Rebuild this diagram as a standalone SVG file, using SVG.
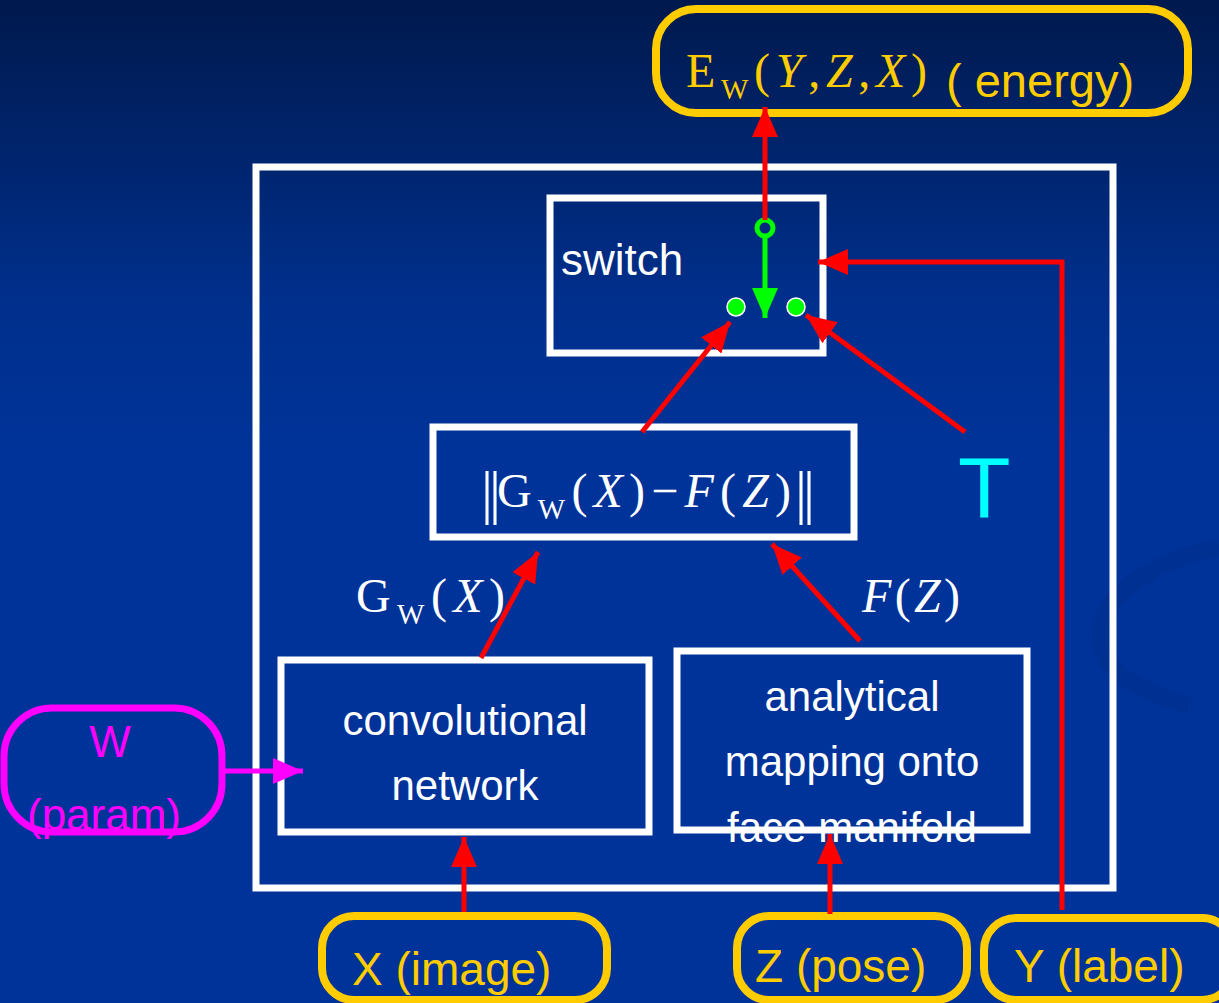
<svg xmlns="http://www.w3.org/2000/svg" width="1219" height="1003" viewBox="0 0 1219 1003">
<defs>
<linearGradient id="bg" x1="0" y1="0" x2="0" y2="1">
<stop offset="0" stop-color="#00194d"/>
<stop offset="0.3" stop-color="#002f8c"/>
<stop offset="0.45" stop-color="#003399"/>
<stop offset="1" stop-color="#003399"/>
</linearGradient>
<marker id="ar" markerUnits="userSpaceOnUse" markerWidth="30" markerHeight="26" refX="30" refY="13" orient="auto"><path d="M0,0 L30,13 L0,26 z" fill="#ff0000"/></marker>
<marker id="ag" markerUnits="userSpaceOnUse" markerWidth="30" markerHeight="26" refX="30" refY="13" orient="auto"><path d="M0,0 L30,13 L0,26 z" fill="#00ff00"/></marker>
<marker id="am" markerUnits="userSpaceOnUse" markerWidth="30" markerHeight="26" refX="30" refY="13" orient="auto"><path d="M0,0 L30,13 L0,26 z" fill="#ff00ff"/></marker>
<style>
.wbox{fill:none;stroke:#ffffff;stroke-width:7}
.gbox{fill:none;stroke:#ffcc00;stroke-width:8}
.sans{font-family:"Liberation Sans",Arial,sans-serif}
.serif{font-family:"Liberation Serif","Times New Roman",serif}
.wt{fill:#ffffff}
.gt{fill:#ffcc00}
.red{stroke:#ff0000;stroke-width:5;fill:none}
</style>
</defs>
<rect x="0" y="0" width="1219" height="1003" fill="url(#bg)"/>
<path d="M1219,548 C1150,560 1095,600 1100,640 C1104,672 1140,692 1190,705" fill="none" stroke="#002d8a" stroke-width="18" opacity="0.45"/>

<g id="outer"><rect class="wbox" x="256" y="167" width="857" height="721"/></g>

<g id="energy">
<rect class="gbox" x="656" y="9" width="532" height="104" rx="40"/>
<text class="serif gt" x="686" y="87" font-size="48" textLength="241" lengthAdjust="spacing">E<tspan font-size="29" dy="12">W</tspan><tspan dy="-12">(</tspan><tspan font-style="italic">Y</tspan>,<tspan font-style="italic">Z</tspan>,<tspan font-style="italic">X</tspan>)</text>
<text class="sans gt" x="946" y="97" font-size="47">( energy)</text>
</g>

<g id="switch">
<rect class="wbox" x="550" y="198" width="273" height="155"/>
<text class="sans wt" x="561" y="275" font-size="44">switch</text>
<circle cx="765" cy="228" r="8" fill="none" stroke="#00ff00" stroke-width="5"/>
<circle cx="736" cy="307" r="9" fill="#00ff00" stroke="#ffffff" stroke-width="1.5"/>
<circle cx="796" cy="307" r="9" fill="#00ff00" stroke="#ffffff" stroke-width="1.5"/>
</g>

<g id="diff">
<rect class="wbox" x="433" y="427" width="421" height="110"/>
<text class="serif wt" x="481" y="512" font-size="60" letter-spacing="-4">||</text>
<text class="serif wt" x="497" y="507" font-size="48" textLength="294" lengthAdjust="spacing">G<tspan font-size="29" dy="12">W</tspan><tspan dy="-12">(</tspan><tspan font-style="italic">X</tspan>)−<tspan font-style="italic">F</tspan>(<tspan font-style="italic">Z</tspan>)</text>
<text class="serif wt" x="795" y="512" font-size="60" letter-spacing="-4">||</text>
</g>

<g id="labels">
<text class="serif wt" x="356" y="612" font-size="48" textLength="149" lengthAdjust="spacing">G<tspan font-size="29" dy="12">W</tspan><tspan dy="-12">(</tspan><tspan font-style="italic">X</tspan>)</text>
<text class="serif wt" x="862" y="612" font-size="48" textLength="98" lengthAdjust="spacing"><tspan font-style="italic">F</tspan>(<tspan font-style="italic">Z</tspan>)</text>
<text class="sans" x="958" y="517" font-size="86" fill="#00ffff">T</text>
</g>

<g id="conv">
<rect class="wbox" x="281" y="660" width="368" height="172"/>
<text class="sans wt" x="465" y="735" font-size="42" text-anchor="middle">convolutional</text>
<text class="sans wt" x="465" y="800" font-size="42" text-anchor="middle">network</text>
</g>

<g id="analytical">
<rect class="wbox" x="677" y="651" width="350" height="179"/>
<text class="sans wt" x="852" y="711" font-size="42" text-anchor="middle">analytical</text>
<text class="sans wt" x="852" y="776" font-size="42" text-anchor="middle">mapping onto</text>
<text class="sans wt" x="852" y="842" font-size="42" text-anchor="middle">face manifold</text>
</g>

<g id="param">
<rect x="4" y="708" width="218" height="124" rx="48" fill="none" stroke="#ff00ff" stroke-width="7"/>
<text class="sans" x="110" y="757" font-size="44" fill="#ff00ff" text-anchor="middle">W</text>
<text class="sans" x="104" y="830" font-size="44" fill="#ff00ff" text-anchor="middle">(param)</text>
</g>

<g id="ximage">
<rect class="gbox" x="322" y="916" width="285" height="84" rx="32"/>
<text class="sans gt" x="352" y="985" font-size="46">X (image)</text>
</g>
<g id="zpose">
<rect class="gbox" x="737" y="916" width="230" height="84" rx="32"/>
<text class="sans gt" x="755" y="982" font-size="46">Z (pose)</text>
</g>
<g id="ylabel">
<rect class="gbox" x="984" y="918" width="250" height="82" rx="32"/>
<text class="sans gt" x="1014" y="982" font-size="46">Y (label)</text>
</g>

<g id="connectors">
<line class="red" x1="765" y1="220" x2="765" y2="107" marker-end="url(#ar)"/>
<line x1="765" y1="236" x2="765" y2="318" stroke="#00ff00" stroke-width="5" marker-end="url(#ag)"/>
<polyline class="red" points="1062,910 1062,262 818,262" marker-end="url(#ar)"/>
<line class="red" x1="965" y1="432" x2="806" y2="315" marker-end="url(#ar)"/>
<line class="red" x1="642" y1="432" x2="730" y2="322" marker-end="url(#ar)"/>
<line class="red" x1="481" y1="658" x2="538" y2="552" marker-end="url(#ar)"/>
<line class="red" x1="860" y1="641" x2="772" y2="544" marker-end="url(#ar)"/>
<line x1="222" y1="771" x2="303" y2="771" stroke="#ff00ff" stroke-width="5" marker-end="url(#am)"/>
<line class="red" x1="464" y1="912" x2="464" y2="837" marker-end="url(#ar)"/>
<line class="red" x1="830" y1="914" x2="830" y2="834" marker-end="url(#ar)"/>
</g>
</svg>
